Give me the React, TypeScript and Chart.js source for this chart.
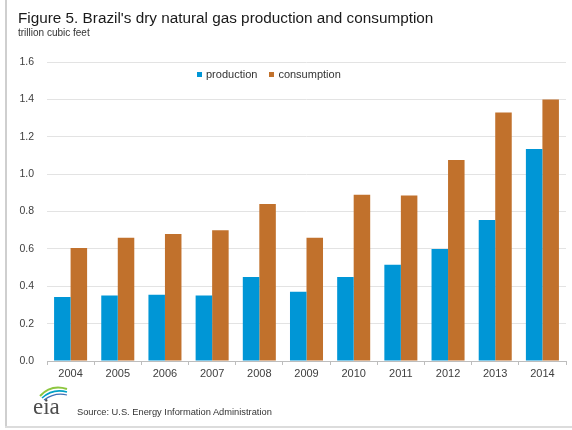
import React, { useEffect, useRef } from "react";
import { Chart, registerables } from "chart.js";

Chart.register(...registerables);

const years = ["2004", "2005", "2006", "2007", "2008", "2009", "2010", "2011", "2012", "2013", "2014"];
const production = [0.342, 0.35, 0.355, 0.35, 0.45, 0.37, 0.45, 0.515, 0.6, 0.755, 1.135];
const consumption = [0.605, 0.66, 0.68, 0.7, 0.84, 0.66, 0.89, 0.885, 1.075, 1.33, 1.4];
const seriesNames = ["production", "consumption"];
const yTicks = [0, 0.2, 0.4, 0.6, 0.8, 1.0, 1.2, 1.4, 1.6];

const BLUE = "#0096d6";
const ORANGE = "#c1712c";
const FONT = "'Liberation Sans', Arial, sans-serif";

export default function App() {
  const ref = useRef<HTMLCanvasElement | null>(null);

  useEffect(() => {
    if (!ref.current) return;
    const chart = new Chart(ref.current, {
      type: "bar",
      data: {
        labels: years,
        datasets: [
          { label: seriesNames[0], data: production, backgroundColor: BLUE, borderWidth: 0 },
          { label: seriesNames[1], data: consumption, backgroundColor: ORANGE, borderWidth: 0 },
        ],
      },
      options: {
        animation: false,
        responsive: false,
        maintainAspectRatio: false,
        layout: { padding: { left: 0, right: 6, top: 62, bottom: 49 } },
        datasets: { bar: { categoryPercentage: 0.7, barPercentage: 1.0 } },
        plugins: { legend: { display: false }, tooltip: { enabled: false }, title: { display: false } },
        scales: {
          x: {
            offset: true,
            grid: { display: true, drawOnChartArea: false, drawTicks: true, tickLength: 4, color: "#bdbdbd", offset: true },
            border: { display: true, color: "#bdbdbd", width: 1 },
            ticks: { color: "#404040", font: { family: FONT, size: 11 }, padding: 2 },
            afterFit: (s: any) => { s.height = 20; },
          },
          y: {
            min: 0,
            max: 1.6,
            afterBuildTicks: (s: any) => { s.ticks = yTicks.map((v) => ({ value: v })); },
            grid: { color: "#e3e3e3", drawTicks: false, lineWidth: 1 },
            border: { display: false },
            ticks: {
              color: "#404040",
              font: { family: FONT, size: 10.5 },
              padding: 13,
              callback: (v: any) => Number(v).toFixed(1),
            },
            afterFit: (s: any) => { s.width = 47; },
          },
        },
      },
    });
    return () => chart.destroy();
  }, []);

  return (
    <div style={{ position: "fixed", left: 0, top: 0, width: 572, height: 430, background: "#fff", overflow: "hidden", fontFamily: FONT }}>
      <div style={{ position: "absolute", left: 5, top: 0, width: 2, height: 427, background: "#cfcfcf" }} />
      <div style={{ position: "absolute", left: 5, top: 426, width: 567, height: 2, background: "#dcdcdc" }} />
      <canvas ref={ref} width={572} height={430} style={{ position: "absolute", left: 0, top: 0 }} />
      <div style={{ position: "absolute", left: 18, top: 9, fontSize: 15.3, color: "#1a1a1a", whiteSpace: "nowrap" }}>
        Figure 5. Brazil's dry natural gas production and consumption
      </div>
      <div style={{ position: "absolute", left: 18, top: 27, fontSize: 10, color: "#333", whiteSpace: "nowrap" }}>
        trillion cubic feet
      </div>
      <div style={{ position: "absolute", left: 197, top: 68, fontSize: 11, color: "#333", whiteSpace: "nowrap", display: "flex", alignItems: "center" }}>
        <span style={{ display: "inline-block", width: 5, height: 5, background: BLUE, marginRight: 4 }} />
        <span>{seriesNames[0]}</span>
        <span style={{ display: "inline-block", width: 5, height: 5, background: ORANGE, marginLeft: 12, marginRight: 4 }} />
        <span>{seriesNames[1]}</span>
      </div>
      <svg style={{ position: "absolute", left: 30, top: 384 }} width={42} height={36}>
        <path d="M10 12 Q21 0 37 5" stroke="#8dc63f" strokeWidth={2} fill="none" />
        <path d="M12 14 Q23 4 37 8" stroke="#00a0c6" strokeWidth={1.6} fill="none" />
        <path d="M14 16 Q25 8 37 11" stroke="#3d6fb6" strokeWidth={1.2} fill="none" />
        <text x={3} y={30} fontFamily="'Liberation Serif', 'Times New Roman', serif" fontSize={23} fill="#4d4d4d">eia</text>
      </svg>
      <div style={{ position: "absolute", left: 77, top: 407, fontSize: 9.3, color: "#333", whiteSpace: "nowrap" }}>
        Source: U.S. Energy Information Administration
      </div>
    </div>
  );
}
